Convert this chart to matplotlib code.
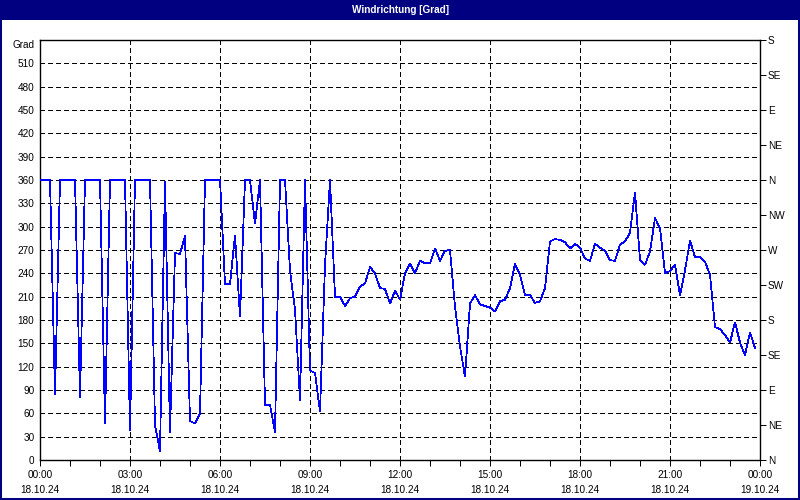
import numpy as np
import matplotlib
matplotlib.use("Agg")
import matplotlib.pyplot as plt
from matplotlib.patches import Rectangle

# ---------------- data ----------------
title = "Windrichtung [Grad]"
y_label_top = "Grad"
start_date = "18.10.24"
end_date = "19.10.24"
step_minutes = 10  # one reading every 10 minutes, starting 00:00

direction = [
    360, 360, 360, 84, 360, 360, 360, 360, 81, 360, 360, 360,      # 00:00-01:50
    360, 47, 360, 360, 360, 360, 38, 360, 360, 360, 360, 45,       # 02:00-03:50
    11, 358, 36, 266, 265, 288, 50, 47, 60, 360, 360, 360,         # 04:00-05:50
    360, 226, 226, 289, 184, 360, 360, 304, 360, 71, 71, 36,       # 06:00-07:50
    360, 360, 244, 193, 77, 360, 115, 112, 62, 250, 360, 210,      # 08:00-09:50
    210, 198, 208, 210, 223, 227, 248, 240, 221, 220, 201, 218,    # 10:00-11:50
    206, 240, 253, 240, 256, 253, 253, 272, 256, 269, 270, 197,    # 12:00-13:50
    146, 107, 201, 212, 200, 198, 196, 191, 204, 206, 221, 252,    # 14:00-15:50
    238, 212, 212, 202, 204, 221, 281, 284, 283, 280, 272, 278,    # 16:00-17:50
    273, 259, 256, 278, 273, 269, 257, 256, 277, 281, 292, 344,    # 18:00-19:50
    257, 251, 268, 311, 298, 240, 243, 251, 212, 244, 282, 261,    # 20:00-21:50
    261, 255, 238, 171, 168, 161, 151, 177, 151, 135, 164, 144,    # 22:00-23:50
]

left_ticks = list(range(0, 541, 30))
right_ticks = list(range(0, 541, 45))
compass_labels = ["N", "NE", "E", "SE", "S", "SW", "W", "NW",
                  "N", "NE", "E", "SE", "S"]
major_hours = [0, 3, 6, 9, 12, 15, 18, 21, 24]

# ---------------- style ----------------
NAVY = "#000080"
plt.rcParams["font.family"] = ["Liberation Sans Narrow", "Liberation Sans", "DejaVu Sans"]
plt.rcParams["lines.scale_dashes"] = False
FS = 7.2
PX = 0.72  # one pixel in points at 100 dpi

fig = plt.figure(figsize=(8, 5), dpi=100)
fig.patch.set_facecolor("white")
ax = fig.add_axes([40 / 800, 40 / 500, 720 / 800, 420 / 500])

hours = np.arange(len(direction)) * step_minutes / 60.0
ax.plot(hours, direction, color="#0000FF", lw=0.55, antialiased=False,
        solid_joinstyle="miter", zorder=3)

ax.set_xlim(0, 24)
ax.set_ylim(0, 540)

# left axis
ax.set_yticks(left_ticks)
ylabels = [str(v) for v in left_ticks]
ylabels[-1] = y_label_top
ax.set_yticklabels(ylabels, fontsize=FS)
ax.tick_params(axis="y", left=True, length=0, pad=4)
for lab in ax.get_yticklabels():
    if lab.get_text() == y_label_top:
        lab.set_va("top")

# bottom axis
ax.set_xticks(major_hours)
xlabels = []
for h in major_hours:
    d = start_date if h < 24 else end_date
    xlabels.append(f"{h % 24:02d}:00\n{d}")
ax.set_xticklabels(xlabels, fontsize=FS, linespacing=1.6)
ax.set_xticks(range(0, 25), minor=True)
ax.tick_params(axis="x", which="both", direction="out", length=4, width=PX,
               pad=3)

# grid
grid_kw = dict(color="black", lw=PX, linestyle=(0, (2.9, 2.2)), antialiased=False)
for v in left_ticks[1:-1]:
    ax.axhline(v, zorder=1, **grid_kw)
for h in major_hours[1:-1]:
    ax.axvline(h, zorder=1, **grid_kw)

for s in ax.spines.values():
    s.set_color("black")
    s.set_linewidth(1.0)

# right axis
ax2 = ax.twinx()
ax2.set_ylim(0, 540)
ax2.set_yticks(right_ticks)
ax2.set_yticklabels(compass_labels, fontsize=FS)
ax2.tick_params(axis="y", direction="out", length=4, width=PX, pad=1.5)
for s in ax2.spines.values():
    s.set_visible(False)

# title bar and frame
fig.add_artist(Rectangle((0, 480 / 500), 1, 20 / 500, transform=fig.transFigure,
                         facecolor=NAVY, edgecolor="none", zorder=0))
fig.text(0.5, 490 / 500, title, color="white", fontsize=FS, ha="center",
         va="center", fontweight="bold")
fig.add_artist(Rectangle((0, 0), 1, 1, transform=fig.transFigure, fill=False,
                         edgecolor=NAVY, lw=2.9, zorder=10))

fig.savefig("out.png", dpi=100)
